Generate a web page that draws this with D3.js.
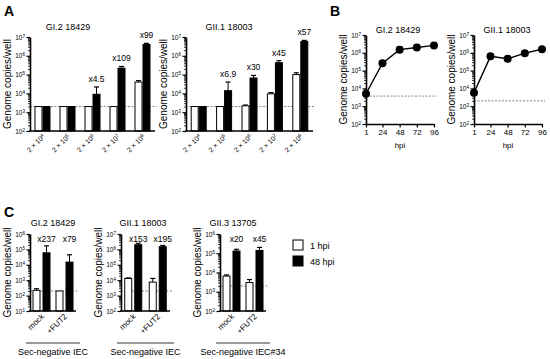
<!DOCTYPE html>
<html>
<head>
<meta charset="utf-8">
<script src="https://cdn.jsdelivr.net/npm/d3@7"></script>
<style>
  body { margin: 0; background: #fff; }
  svg { font-family: "Liberation Sans", Arial, sans-serif; }
</style>
</head>
<body>
<svg id="fig" width="550" height="359"></svg>
<script>
// ---- data ----
const inoculumExp = [4, 5, 6, 7, 8];            // 2 x 10^n inoculum
const aGI2White    = [2e3, 2e3, 2e3, 2e3, 4e4];
const aGI2WhiteErr = [0, 0, 0, 0, 4.8e4];
const aGI2Black    = [2e3, 2e3, 9e3, 2.2e5, 4e6];
const aGI2BlackErr = [0, 0, 2.2e4, 2.7e5, 4.6e6];
const aGI2Fold     = ["", "", "x4.5", "x109", "x99"];

const aGII1White    = [2e3, 2e3, 2.2e3, 9.5e3, 1e5];
const aGII1WhiteErr = [0, 0, 2.4e3, 1.1e4, 1.25e5];
const aGII1Black    = [2e3, 1.4e4, 6.6e4, 4.3e5, 5.7e6];
const aGII1BlackErr = [0, 4e4, 9e4, 5.5e5, 6.6e6];
const aGII1Fold     = ["", "x6.9", "x30", "x45", "x57"];

const hpi = [1, 24, 48, 72, 96];
const bGI2     = [5e3, 2.6e5, 1.5e6, 2e6, 2.6e6];
const bGI2Err  = [5.6e3, 3.4e5, 2.1e6, 2.7e6, 3.1e6];
const bGII1    = [5.7e3, 6.3e5, 4.6e5, 9.5e5, 1.6e6];
const bGII1Err = [6.3e3, 7e5, 5.2e5, 1.05e6, 1.8e6];

const cGroups = ["mock", "+FUT2"];
const cGI2White    = [2.2e2, 2e2];
const cGI2WhiteErr = [2.8e2, 0];
const cGI2Black    = [6e4, 1.5e4];
const cGI2BlackErr = [1.7e5, 4.5e4];
const cGI2Fold     = ["x237", "x79"];

const cGII1White    = [1.3e4, 7.5e3];
const cGII1WhiteErr = [1.4e4, 1.3e4];
const cGII1Black    = [2e6, 1.5e6];
const cGII1BlackErr = [2.5e6, 1.8e6];
const cGII1Fold     = ["x153", "x195"];

const cGII3White    = [6.5e3, 3e3];
const cGII3WhiteErr = [7.5e3, 4.3e3];
const cGII3Black    = [1.3e5, 1.4e5];
const cGII3BlackErr = [1.6e5, 2e5];
const cGII3Fold     = ["x20", "x45"];

const legendLabels = ["1 hpi", "48 hpi"];

// ---- helpers ----
const svg = d3.select("#fig");

function sup(sel, base, exp) {
  sel.text(base);
  sel.append("tspan").attr("dy", "-0.45em").attr("font-size", "70%").text(exp);
}

function logAxis(g, y, lo, hi, xPos) {
  const majors = d3.range(lo, hi + 1).map(e => Math.pow(10, e));
  const minors = [];
  for (let e = lo; e < hi; e++) for (let k = 2; k <= 9; k++) minors.push(k * Math.pow(10, e));

  g.append("g")
    .attr("transform", `translate(${xPos},0)`)
    .call(d3.axisLeft(y).tickValues(minors).tickSize(2).tickFormat(""))
    .call(a => a.select(".domain").remove())
    .selectAll("line").attr("stroke-width", 0.8);

  const ax = g.append("g")
    .attr("transform", `translate(${xPos},0)`)
    .call(d3.axisLeft(y).tickValues(majors).tickSize(3.5).tickPadding(1.5).tickSizeOuter(0));
  ax.select(".domain").attr("stroke-width", 1.6);
  ax.selectAll(".tick line").attr("stroke-width", 1.2);
  ax.selectAll(".tick text")
    .attr("font-size", 6.5)
    .attr("font-family", "Liberation Sans, Arial, sans-serif")
    .each(function(d) { d3.select(this).text(null).call(sup, "10", Math.round(Math.log10(d))); });
}

function yTitle(g, x, yMid) {
  g.append("text")
    .attr("transform", `translate(${x},${yMid}) rotate(-90)`)
    .attr("text-anchor", "middle")
    .attr("font-size", 10)
    .text("Genome copies/well");
}

function barPanel(o) {
  const g = svg.append("g");
  const x = d3.scaleBand().domain(o.cats).range([o.left, o.right]);
  const y = d3.scaleLog().domain([Math.pow(10, o.lo), Math.pow(10, o.hi)]).range([o.bottom, o.top]);
  const bw = o.barW, gap = o.gap;

  const rows = o.cats.map((c, i) => ({
    c, w: o.white[i], we: o.whiteErr[i], b: o.black[i], be: o.blackErr[i], fold: o.fold[i]
  }));

  // dashed detection limit
  g.append("line")
    .attr("x1", o.left).attr("x2", o.right + 2)
    .attr("y1", y(o.lod)).attr("y2", y(o.lod))
    .attr("stroke", "#666").attr("stroke-width", 0.8).attr("stroke-dasharray", "2,1.5");

  const cx = d => x(d.c) + x.bandwidth() / 2;
  const wx = d => cx(d) - gap / 2 - bw;
  const bx = d => cx(d) + gap / 2;

  // error bars (upper only)
  const err = (acc, val, xf) => {
    const e = g.selectAll(null).data(rows.filter(d => acc(d) > val(d))).join("g");
    e.append("line")
      .attr("x1", d => xf(d) + bw / 2).attr("x2", d => xf(d) + bw / 2)
      .attr("y1", d => y(val(d))).attr("y2", d => y(acc(d)))
      .attr("stroke", "#000").attr("stroke-width", 1);
    e.append("line")
      .attr("x1", d => xf(d) + bw / 2 - 2.5).attr("x2", d => xf(d) + bw / 2 + 2.5)
      .attr("y1", d => y(acc(d))).attr("y2", d => y(acc(d)))
      .attr("stroke", "#000").attr("stroke-width", 1.2);
  };
  err(d => d.we, d => d.w, wx);
  err(d => d.be, d => d.b, bx);

  g.selectAll(null).data(rows).join("rect")
    .attr("x", wx).attr("width", bw)
    .attr("y", d => y(d.w)).attr("height", d => o.bottom - y(d.w))
    .attr("fill", "#fff").attr("stroke", "#000").attr("stroke-width", 1);
  g.selectAll(null).data(rows).join("rect")
    .attr("x", bx).attr("width", bw)
    .attr("y", d => y(d.b)).attr("height", d => o.bottom - y(d.b))
    .attr("fill", "#000").attr("stroke", "#000").attr("stroke-width", 1);

  // fold-change labels
  g.selectAll(null).data(rows.filter(d => d.fold)).join("text")
    .attr("x", d => (o.foldAt === "center" ? cx(d) : bx(d) + bw / 2))
    .attr("y", d => o.foldY != null ? o.foldY : y(Math.max(d.be, d.b)) - 5)
    .attr("text-anchor", "middle")
    .attr("font-size", o.foldSize || 8.5)
    .text(d => d.fold);

  // x axis line
  g.append("line")
    .attr("x1", o.left - 0.8).attr("x2", o.right)
    .attr("y1", o.bottom).attr("y2", o.bottom)
    .attr("stroke", "#000").attr("stroke-width", 1.6);

  // category labels, rotated
  g.selectAll(null).data(rows).join("text")
    .attr("transform", d => `translate(${cx(d) + 3},${o.bottom + 6}) rotate(-45)`)
    .attr("text-anchor", "end")
    .attr("font-size", o.catSize)
    .each(function(d) { o.catLabel(d3.select(this), d.c); });

  logAxis(g, y, o.lo, o.hi, o.left);
  yTitle(g, o.left - 19, (o.top + o.bottom) / 2);

  g.append("text")
    .attr("x", o.titleX).attr("y", o.titleY)
    .attr("text-anchor", "middle").attr("font-size", 9)
    .text(o.title);
  return { g, x, y };
}

function linePanel(o) {
  const g = svg.append("g");
  const x = d3.scaleLinear().domain([1, 96]).range([o.left, o.right]);
  const y = d3.scaleLog().domain([1e2, 1e7]).range([o.bottom, o.top]);
  const rows = hpi.map((h, i) => ({ h, v: o.vals[i], e: o.errs[i] }));

  g.append("line")
    .attr("x1", o.left).attr("x2", o.right + 3)
    .attr("y1", y(o.lod)).attr("y2", y(o.lod))
    .attr("stroke", "#666").attr("stroke-width", 0.8).attr("stroke-dasharray", "2,1.5");

  const ea = g.selectAll(null).data(rows).join("g");
  ea.append("line")
    .attr("x1", d => x(d.h)).attr("x2", d => x(d.h))
    .attr("y1", d => y(d.v)).attr("y2", d => y(d.e))
    .attr("stroke", "#000").attr("stroke-width", 1);
  ea.append("line")
    .attr("x1", d => x(d.h) - 3).attr("x2", d => x(d.h) + 3)
    .attr("y1", d => y(d.e)).attr("y2", d => y(d.e))
    .attr("stroke", "#000").attr("stroke-width", 1.2);

  g.append("path").datum(rows)
    .attr("d", d3.line().x(d => x(d.h)).y(d => y(d.v)))
    .attr("fill", "none").attr("stroke", "#000").attr("stroke-width", 1.4);
  g.selectAll(null).data(rows).join("circle")
    .attr("cx", d => x(d.h)).attr("cy", d => y(d.v)).attr("r", 4)
    .attr("fill", "#000");

  const xa = g.append("g")
    .attr("transform", `translate(0,${o.bottom})`)
    .call(d3.axisBottom(x).tickValues(hpi).tickSize(3.5).tickPadding(2).tickSizeOuter(0));
  xa.select(".domain").attr("stroke-width", 1.6);
  xa.selectAll(".tick line").attr("stroke-width", 1.2);
  xa.selectAll(".tick text").attr("font-size", 8).attr("font-family", "Liberation Sans, Arial, sans-serif");

  logAxis(g, y, 2, 7, o.left);
  yTitle(g, o.left - 19, (o.top + o.bottom) / 2);

  g.append("text")
    .attr("x", (o.left + o.right) / 2).attr("y", o.bottom + 24)
    .attr("text-anchor", "middle").attr("font-size", 8).text("hpi");
  g.append("text")
    .attr("x", o.titleX).attr("y", o.titleY)
    .attr("text-anchor", "middle").attr("font-size", 9).text(o.title);
}

const inocLabel = (sel, e) => { sel.text("2 \u00d7 10"); sel.append("tspan").attr("dy", "-0.45em").attr("font-size", "70%").text(e); };
const plainLabel = (sel, c) => sel.text(c);

// panel letters
[["A", 4, 16], ["B", 330, 16], ["C", 4, 217]].forEach(([t, x, y]) =>
  svg.append("text").attr("x", x).attr("y", y).attr("font-size", 14).attr("font-weight", "bold").text(t));

// ---- panel A ----
const aCommon = { cats: inoculumExp, top: 37, bottom: 131, lo: 2, hi: 7, lod: 2e3,
  barW: 7, gap: 1, catSize: 7, catLabel: inocLabel, titleY: 30 };
barPanel({ ...aCommon, left: 30, right: 155, white: aGI2White, whiteErr: aGI2WhiteErr,
  black: aGI2Black, blackErr: aGI2BlackErr, fold: aGI2Fold, title: "GI.2 18429", titleX: 68 });
barPanel({ ...aCommon, left: 186, right: 313, white: aGII1White, whiteErr: aGII1WhiteErr,
  black: aGII1Black, blackErr: aGII1BlackErr, fold: aGII1Fold, title: "GII.1 18003", titleX: 229 });

// ---- panel B ----
linePanel({ left: 366, right: 434, top: 35, bottom: 124, vals: bGI2, errs: bGI2Err, lod: 3.7e3,
  title: "GI.2 18429", titleX: 398, titleY: 33 });
linePanel({ left: 474, right: 542, top: 35, bottom: 124, vals: bGII1, errs: bGII1Err, lod: 2e3,
  title: "GII.1 18003", titleX: 507, titleY: 33 });

// ---- panel C ----
const cCommon = { cats: cGroups, top: 234, bottom: 311, barW: 7, gap: 3, catSize: 8,
  catLabel: plainLabel, titleY: 226, foldY: 242, foldAt: "black", foldSize: 8.5 };
const cPanels = [
  { left: 30, right: 76, lo: 1, hi: 6, lod: 2e2, white: cGI2White, whiteErr: cGI2WhiteErr,
    black: cGI2Black, blackErr: cGI2BlackErr, fold: cGI2Fold, title: "GI.2 18429", titleX: 53, group: "Sec-negative IEC" },
  { left: 121, right: 170, lo: 2, hi: 7, lod: 2e3, white: cGII1White, whiteErr: cGII1WhiteErr,
    black: cGII1Black, blackErr: cGII1BlackErr, fold: cGII1Fold, title: "GII.1 18003", titleX: 143, group: "Sec-negative IEC" },
  { left: 220, right: 266, lo: 2, hi: 6, lod: 2e3, white: cGII3White, whiteErr: cGII3WhiteErr,
    black: cGII3Black, blackErr: cGII3BlackErr, fold: cGII3Fold, title: "GII.3 13705", titleX: 233, group: "Sec-negative IEC#34" }
];
cPanels.forEach(p => {
  barPanel({ ...cCommon, ...p });
  svg.append("line")
    .attr("x1", p.left - 4).attr("x2", p.right + 4)
    .attr("y1", 343).attr("y2", 343)
    .attr("stroke", "#000").attr("stroke-width", 0.8);
  svg.append("text")
    .attr("x", (p.left + p.right) / 2).attr("y", 355)
    .attr("text-anchor", "middle").attr("font-size", 9).text(p.group);
});

// legend
const leg = svg.append("g").attr("transform", "translate(293,240)");
const li = leg.selectAll(null).data(legendLabels).join("g")
  .attr("transform", (d, i) => `translate(0,${i * 16})`);
li.append("rect").attr("width", 10).attr("height", 10)
  .attr("fill", (d, i) => i ? "#000" : "#fff").attr("stroke", "#000").attr("stroke-width", 1);
li.append("text").attr("x", 17).attr("y", 9).attr("font-size", 9).text(d => d);
</script>
</body>
</html>
